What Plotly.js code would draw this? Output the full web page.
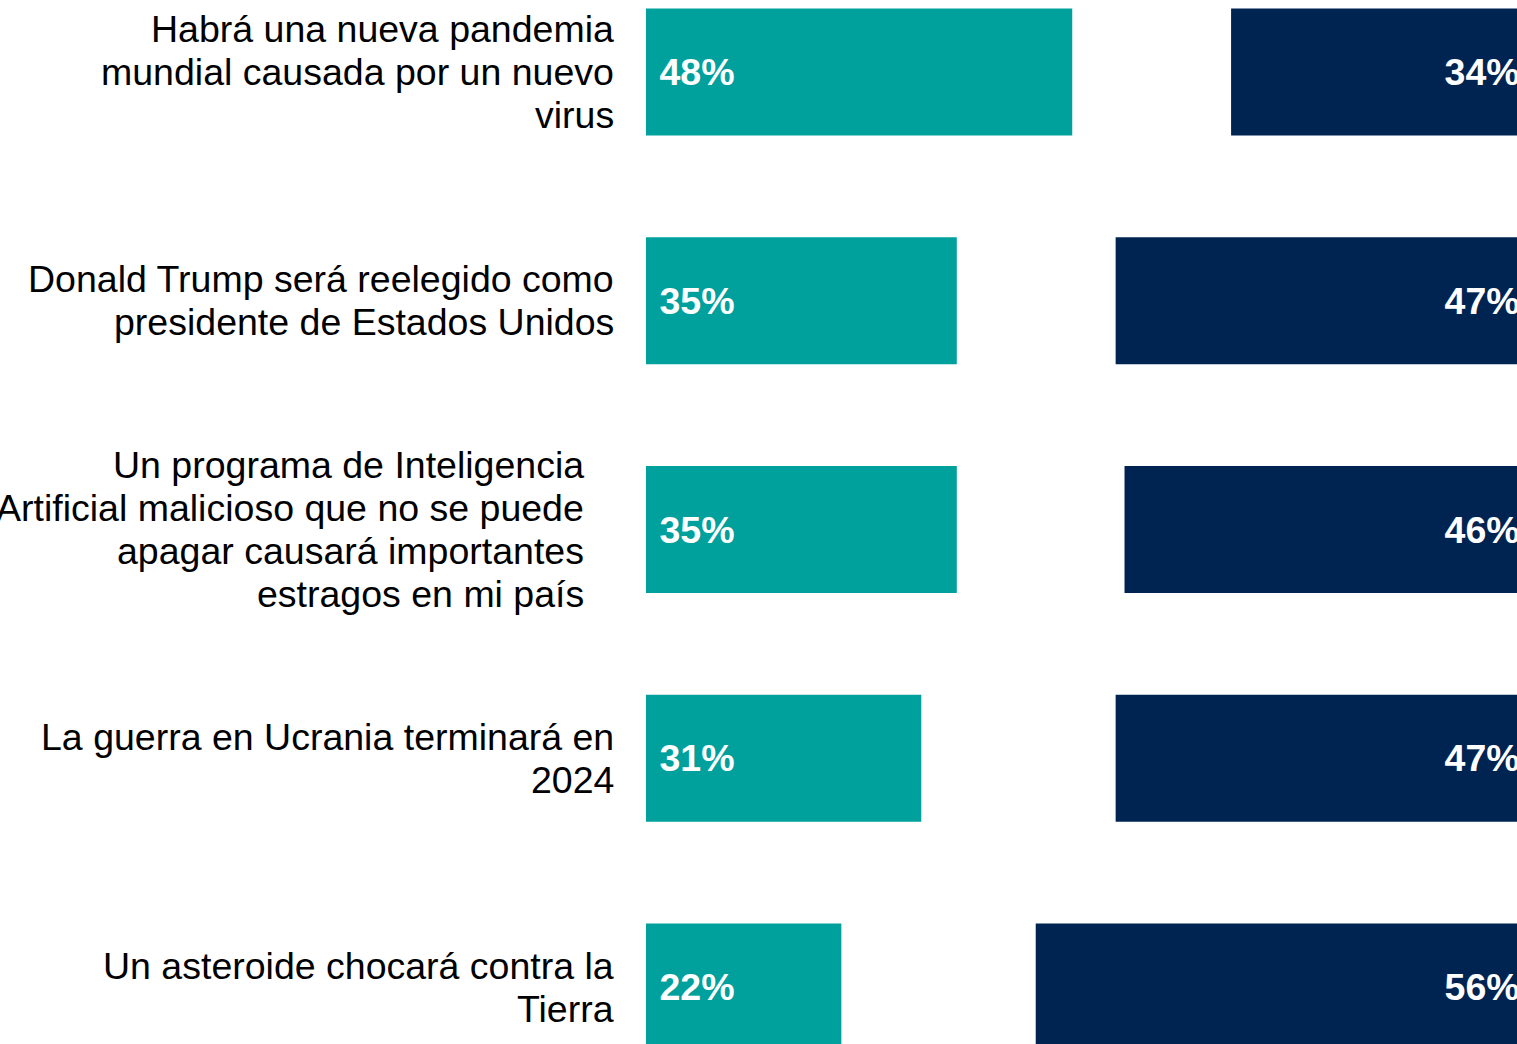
<!DOCTYPE html>
<html>
<head>
<meta charset="utf-8">
<script src="https://cdn.plot.ly/plotly-3.0.1.min.js"></script>
<style>
  html, body { margin: 0; padding: 0; overflow: hidden; background: #fff; }
  #grafikas { width: 1517px; height: 1044px; }
</style>
</head>
<body>
<div id="grafikas"></div>
<script>
// duomenys
var teiginiai = [
    "Habrá una nueva pandemia<br>mundial causada por un nuevo<br>virus",
    "Donald Trump será reelegido como<br>presidente de Estados Unidos",
    "Un programa de Inteligencia<br>Artificial malicioso que no se puede<br>apagar causará importantes<br>estragos en mi país",
    "La guerra en Ucrania terminará en<br>2024",
    "Un asteroide chocará contra la<br>Tierra"
];
var kategorijos = ["pandemia", "trump", "ia", "ucrania", "asteroide"];
var taip = [48, 35, 35, 31, 22];
var ne = [34, 47, 46, 47, 56];

// 8.88 px viename procente
var pxProc = 8.88;
var plotis = 1517;
var pradzia = 646;
var pabaiga = 1533;
var zingsnis = 228.75;
var pirmasCentras = 72;
var eilute = 43;
var sriftas = 'Liberation Sans, Arial, sans-serif';

var zalia = {
    x: taip,
    y: kategorijos,
    type: 'bar',
    orientation: 'h',
    xaxis: 'x',
    marker: { color: '#00A09D' },
    width: 0.555,
    text: taip.map(v => '\u00a0' + v + '%'),
    textposition: 'inside',
    insidetextanchor: 'start',
    textfont: { family: sriftas, size: 37.5, color: '#ffffff', weight: 'bold' },
    hoverinfo: 'none'
};

var melyna = {
    x: ne,
    y: kategorijos,
    type: 'bar',
    orientation: 'h',
    xaxis: 'x2',
    marker: { color: '#002452' },
    width: 0.555,
    text: ne.map(v => v + '%\u00a0'),
    textposition: 'inside',
    insidetextanchor: 'start',
    textfont: { family: sriftas, size: 37.5, color: '#ffffff', weight: 'bold' },
    hoverinfo: 'none'
};

// kiekviena eilute atskirai, kad tarpai butu 43px
var desinysKrastas = [616, 616, 586, 616, 616];
var uzrasai = [];
teiginiai.forEach((t, i) => {
    var eilutes = t.split('<br>');
    eilutes.forEach((e, j) => {
        uzrasai.push({
            text: e,
            xref: 'paper',
            x: desinysKrastas[i] / plotis,
            xanchor: 'right',
            yref: 'y',
            y: kategorijos[i],
            yanchor: 'middle',
            yshift: ((eilutes.length - 1) / 2 - j) * eilute,
            showarrow: false,
            font: { family: sriftas, size: 37.5, color: '#000000' }
        });
    });
});

var layout = {
    width: 1517,
    height: 1044,
    margin: { l: 0, r: 0, t: 0, b: 0, pad: 0 },
    paper_bgcolor: '#ffffff',
    plot_bgcolor: '#ffffff',
    showlegend: false,
    barmode: 'overlay',
    xaxis: {
        range: [-pradzia / pxProc, (plotis - pradzia) / pxProc],
        visible: false, fixedrange: true
    },
    xaxis2: {
        overlaying: 'x',
        range: [pabaiga / pxProc, (pabaiga - plotis) / pxProc],
        visible: false, fixedrange: true
    },
    yaxis: {
        type: 'category',
        range: [(1044 - pirmasCentras) / zingsnis, -pirmasCentras / zingsnis],
        visible: false, fixedrange: true
    },
    annotations: uzrasai
};

Plotly.newPlot('grafikas', [zalia, melyna], layout, { displayModeBar: false, staticPlot: true });
</script>
</body>
</html>
